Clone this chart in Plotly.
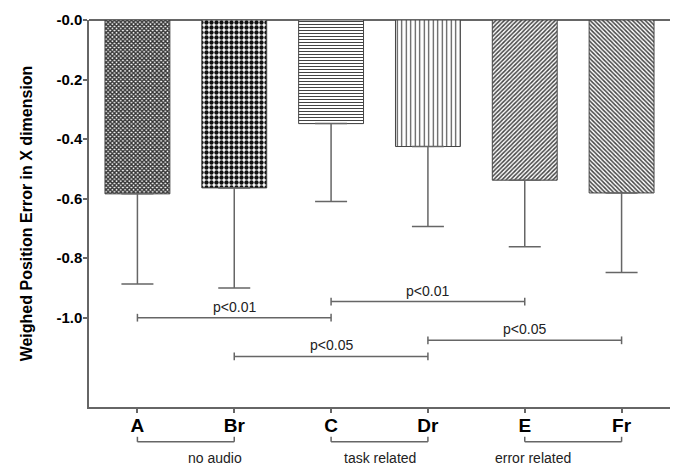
import plotly.graph_objects as go

categories = ["A", "Br", "C", "Dr", "E", "Fr"]
means = [-0.584, -0.564, -0.348, -0.425, -0.538, -0.581]
err_down = [0.303, 0.336, 0.262, 0.269, 0.224, 0.267]

pattern_shapes = ["x", ".", "-", "|", "/", "\\"]
pattern_sizes = [3, 5, 3, 4.5, 3, 3]
pattern_solid = [0.7, 0.6, 0.35, 0.25, 0.5, 0.5]
pattern_fg = ["#333333", "#111111", "#444444", "#444444", "#444444", "#444444"]

# significance brackets: (from index, to index, y value, label)
sig_from = [0, 2, 1, 3]
sig_to = [2, 4, 3, 5]
sig_y = [-1.0, -0.946, -1.13, -1.076]
sig_labels = ["p<0.01", "p<0.01", "p<0.05", "p<0.05"]

# group brackets under axis
grp_from = [0, 2, 4]
grp_to = [1, 3, 5]
grp_labels = ["no audio", "task related", "error related"]

xs = list(range(len(categories)))
XMIN, XMAX = -0.5, 5.5

fig = go.Figure()
for i, c in enumerate(categories):
    fig.add_trace(go.Bar(
        x=[xs[i]], y=[means[i]], width=0.67,
        marker=dict(
            color="white",
            line=dict(color="#444444", width=1),
            pattern=dict(shape=pattern_shapes[i], size=pattern_sizes[i],
                         solidity=pattern_solid[i], fgcolor=pattern_fg[i],
                         bgcolor="white", fillmode="replace"),
        ),
        error_y=dict(type="data", symmetric=False, array=[0], arrayminus=[err_down[i]],
                     color="#666666", thickness=1.5, width=16),
        showlegend=False,
    ))

line_col = "#666666"
tick_h = 0.013
FONT = "Liberation Sans, Arial"
for a, b, yv, lab in zip(sig_from, sig_to, sig_y, sig_labels):
    fig.add_shape(type="line", x0=xs[a], x1=xs[b], y0=yv, y1=yv,
                  line=dict(color=line_col, width=1.5))
    for xv in (xs[a], xs[b]):
        fig.add_shape(type="line", x0=xv, x1=xv, y0=yv - tick_h, y1=yv + tick_h,
                      line=dict(color=line_col, width=1.5))
    fig.add_annotation(x=(xs[a] + xs[b]) / 2, y=yv, text=lab, showarrow=False,
                       yanchor="bottom", yshift=1,
                       font=dict(size=14, color="#222222", family=FONT))

def px(v):
    return (v - XMIN) / (XMAX - XMIN)

for a, b, lab in zip(grp_from, grp_to, grp_labels):
    x0, x1 = px(xs[a]), px(xs[b])
    yb = -0.09
    fig.add_shape(type="line", xref="paper", yref="paper", x0=x0, x1=x1, y0=yb, y1=yb,
                  line=dict(color=line_col, width=1.5))
    for xv in (x0, x1):
        fig.add_shape(type="line", xref="paper", yref="paper", x0=xv, x1=xv,
                      y0=yb, y1=yb + 0.013, line=dict(color=line_col, width=1.5))
    fig.add_annotation(xref="paper", yref="paper", x=(x0 + x1) / 2, y=yb - 0.016,
                       text=lab, showarrow=False, yanchor="top",
                       font=dict(size=14, color="#222222", family=FONT))

fig.update_layout(
    width=677, height=464,
    margin=dict(l=81, r=15, t=12, b=65, autoexpand=False),
    plot_bgcolor="white", paper_bgcolor="white",
    xaxis=dict(
        range=[XMIN, XMAX], tickvals=xs, ticktext=categories, automargin=False,
        tickfont=dict(size=19, color="black", family=FONT, weight="bold"),
        showline=True, linecolor=line_col, linewidth=1.5,
        ticks="outside", ticklen=4, tickcolor=line_col, tickwidth=1.5,
        ticklabelstandoff=-4,
        showgrid=False, zeroline=False,
    ),
    yaxis=dict(
        range=[-1.3, 0], tickvals=[0, -0.2, -0.4, -0.6, -0.8, -1.0], automargin=False,
        ticktext=["-0.0", "-0.2", "-0.4", "-0.6", "-0.8", "-1.0"],
        tickfont=dict(size=15, color="black", family=FONT, weight="bold"),
        showline=True, linecolor=line_col, linewidth=1.5,
        ticks="outside", ticklen=4, tickcolor=line_col, tickwidth=1.5,
        ticklabelstandoff=-2,
        showgrid=False, zeroline=True, zerolinecolor=line_col, zerolinewidth=1.5,
        title=dict(text="Weighed Position Error in X dimension", standoff=20,
                   font=dict(size=16, color="black", family=FONT, weight="bold")),
    ),
)

fig.write_html("out.html")
